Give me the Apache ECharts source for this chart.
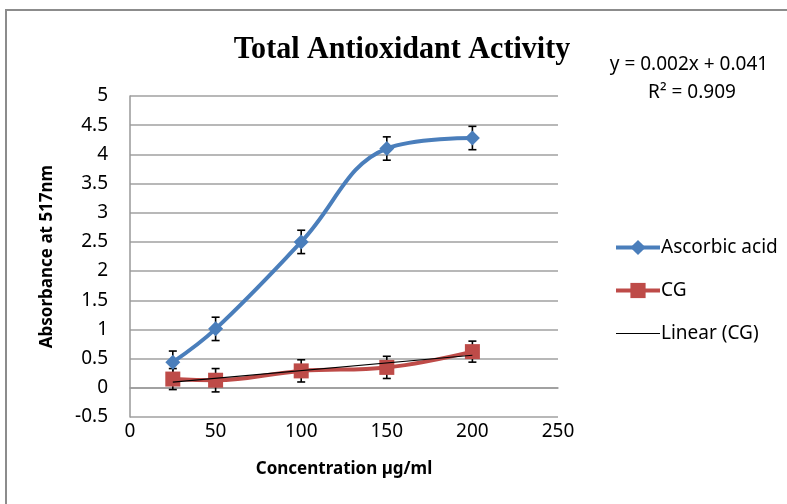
<!DOCTYPE html>
<html>
<head>
<meta charset="utf-8">
<script src="https://cdn.jsdelivr.net/npm/echarts@6/dist/echarts.min.js"></script>
<style>
  html, body { margin: 0; padding: 0; background: #fff; }
  #chart { width: 787px; height: 504px; }
</style>
</head>
<body>
<div id="chart"></div>
<script>
// data
const concentrations = [25, 50, 100, 150, 200];
const ascorbicAcid = [0.44, 1.01, 2.5, 4.1, 4.28];
const ascorbicErr = [0.19, 0.2, 0.2, 0.2, 0.2];
const cg = [0.15, 0.13, 0.29, 0.35, 0.62];
const cgErr = [0.18, 0.2, 0.19, 0.19, 0.18];
const seriesNames = ['Ascorbic acid', 'CG', 'Linear (CG)'];
const equationLabels = ['y = 0.002x + 0.041', 'R\u00b2 = 0.909'];

const font = 'Noto Sans';

// least squares trend line for CG (Excel "Linear" trendline)
const n = concentrations.length;
const mx = concentrations.reduce((a, b) => a + b, 0) / n;
const my = cg.reduce((a, b) => a + b, 0) / n;
let sxy = 0, sxx = 0;
concentrations.forEach((x, i) => {
    sxy += (x - mx) * (cg[i] - my);
    sxx += (x - mx) * (x - mx);
});
const slope = sxy / sxx;
const intercept = my - slope * mx;
const xFirst = concentrations[0];
const xLast = concentrations[n - 1];
const trend = [[xFirst, intercept + slope * xFirst], [xLast, intercept + slope * xLast]];

const pairs = (ys) => concentrations.map((x, i) => [x, ys[i]]);
const errData = (ys, es) => concentrations.map((x, i) => [x, ys[i] - es[i], ys[i] + es[i]]);

// black I-shaped error bars
const errorBars = (data) => ({
    type: 'custom',
    z: 1,
    silent: true,
    data: data,
    renderItem: (params, api) => {
        const lo = api.coord([api.value(0), api.value(1)]);
        const hi = api.coord([api.value(0), api.value(2)]);
        const w = 4;
        const style = { stroke: '#000', lineWidth: 1.6 };
        return {
            type: 'group',
            children: [
                { type: 'line', shape: { x1: lo[0], y1: lo[1], x2: hi[0], y2: hi[1] }, style },
                { type: 'line', shape: { x1: lo[0] - w, y1: lo[1], x2: lo[0] + w, y2: lo[1] }, style },
                { type: 'line', shape: { x1: hi[0] - w, y1: hi[1], x2: hi[0] + w, y2: hi[1] }, style }
            ]
        };
    }
});

const myChart = echarts.init(document.getElementById('chart'));

const options = {
    backgroundColor: '#fff',
    animation: false,
    graphic: [
        {
            type: 'rect',
            shape: { x: 6, y: 10, width: 820, height: 540 },
            style: { fill: null, stroke: '#8c8c8c', lineWidth: 2 },
            silent: true
        },
        {
            // title, slightly condensed like the original
            type: 'text', x: 402, y: 50, scaleX: 0.97, scaleY: 1.05,
            style: {
                text: 'Total Antioxidant Activity',
                font: 'bold 31px "Liberation Serif"',
                fill: '#000', align: 'center', verticalAlign: 'middle'
            }
        },
        {
            type: 'text', x: 689, y: 65,
            style: { text: equationLabels[0], font: '19px "' + font + '"', fill: '#000', align: 'center', verticalAlign: 'middle' }
        },
        {
            type: 'text', x: 692, y: 93,
            style: { text: equationLabels[1], font: '19px "' + font + '"', fill: '#000', align: 'center', verticalAlign: 'middle' }
        }
    ],
    legend: {
        data: [
            { name: seriesNames[0] },
            { name: seriesNames[1] },
            { name: seriesNames[2], itemStyle: { opacity: 0 }, lineStyle: { width: 1.2 } }
        ],
        orient: 'vertical',
        left: 609,
        top: 233,
        itemWidth: 44,
        itemHeight: 19,
        itemGap: 24,
        lineStyle: { width: 4 },
        textStyle: { fontFamily: font, fontSize: 19, color: '#000', padding: [0, 0, 0, -4] }
    },
    grid: {
        left: 130,
        right: 229,
        top: 96,
        bottom: 87
    },
    xAxis: {
        type: 'value',
        min: 0,
        max: 250,
        interval: 50,
        name: 'Concentration \u00b5g/ml',
        nameLocation: 'middle',
        nameGap: 44,
        nameTextStyle: { fontFamily: font, fontWeight: 'bold', fontSize: 17, color: '#000' },
        axisLine: { lineStyle: { color: '#999', width: 1.5 } },
        axisTick: { show: false },
        axisLabel: { fontFamily: font, fontSize: 19, color: '#000', margin: 5 },
        splitLine: { show: false }
    },
    yAxis: {
        type: 'value',
        min: -0.5,
        max: 5,
        interval: 0.5,
        name: 'Absorbance at 517nm',
        nameLocation: 'middle',
        nameGap: 74,
        nameTextStyle: { fontFamily: font, fontWeight: 'bold', fontSize: 17, color: '#000' },
        axisLine: { show: true, lineStyle: { color: '#999', width: 1.5 } },
        axisTick: { show: false },
        axisLabel: { fontFamily: font, fontSize: 19, color: '#000', margin: 22 },
        splitLine: { lineStyle: { color: '#a0a0a0', width: 1.5 } }
    },
    series: [
        errorBars(errData(ascorbicAcid, ascorbicErr)),
        errorBars(errData(cg, cgErr)),
        {
            name: seriesNames[0],
            type: 'line',
            z: 3,
            smooth: 0.4,
            data: pairs(ascorbicAcid),
            symbol: 'diamond',
            symbolSize: 15,
            lineStyle: { color: '#4a7ebb', width: 4 },
            itemStyle: { color: '#4a7ebb' }
        },
        {
            name: seriesNames[1],
            type: 'line',
            z: 3,
            smooth: 0.4,
            data: pairs(cg),
            symbol: 'rect',
            symbolSize: 15,
            lineStyle: { color: '#be4b48', width: 4 },
            itemStyle: { color: '#be4b48' }
        },
        {
            name: seriesNames[2],
            type: 'line',
            z: 4,
            data: trend,
            symbol: 'none',
            lineStyle: { color: '#000', width: 1.2 },
            itemStyle: { color: '#000' }
        }
    ]
};

myChart.setOption(options);
</script>
</body>
</html>
